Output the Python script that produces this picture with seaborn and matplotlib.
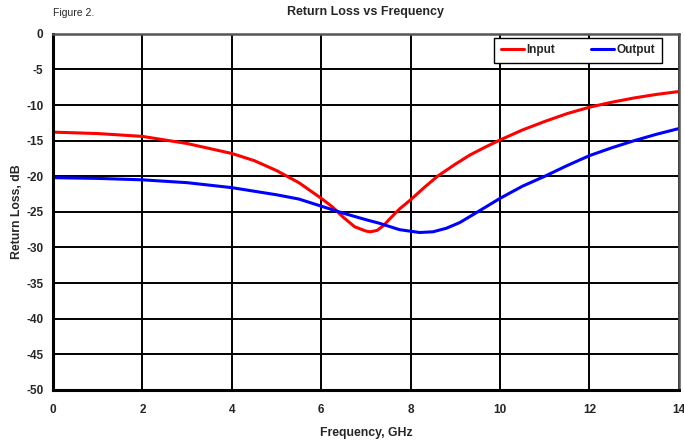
"""
Return loss vs frequency chart (Figure 2)
"""

import numpy as np
import pandas as pd
import matplotlib
matplotlib.use('Agg')
import matplotlib.pyplot as plt
import seaborn as sns

# Data
input_freq = [0, 1, 2, 3, 4, 4.5, 5, 5.5, 6, 6.25, 6.5, 6.75, 7, 7.1, 7.25, 7.4, 7.5, 7.75, 8, 8.3, 8.6,
              9, 9.33, 9.67, 10, 10.5, 11, 11.5, 12, 12.5, 13, 13.5, 14]
input_rl = [-13.8, -14.0, -14.4, -15.4, -16.8, -17.8, -19.2, -20.9, -23.1, -24.3, -25.8, -27.1, -27.7, -27.8,
            -27.6, -26.9, -26.2, -24.6, -23.3, -21.6, -20.0, -18.3, -17.0, -15.9, -14.9, -13.5, -12.3,
            -11.2, -10.3, -9.6, -9.0, -8.5, -8.1]

output_freq = [0, 1, 2, 3, 4, 5, 5.5, 6, 6.5, 7, 7.3, 7.75, 8.2, 8.5, 8.8, 9.1, 9.5, 10, 10.5, 11, 11.5,
               12, 12.5, 13, 13.5, 14]
output_rl = [-20.2, -20.3, -20.5, -20.9, -21.6, -22.6, -23.2, -24.2, -25.2, -26.1, -26.6, -27.5, -27.9,
             -27.8, -27.3, -26.5, -25.0, -23.1, -21.4, -20.0, -18.5, -17.1, -16.0, -15.0, -14.1, -13.3]

x_ticks = [0, 2, 4, 6, 8, 10, 12, 14]
y_ticks = [0, -5, -10, -15, -20, -25, -30, -35, -40, -45, -50]

sns.set_style("white")
plt.rcParams['font.family'] = ['Liberation Sans', 'DejaVu Sans']

fig = plt.figure(figsize=(6.84, 4.40), dpi=100)
ax = fig.add_axes([0.0775, 0.114, 0.915, 0.809])

df_in = pd.DataFrame({'freq': input_freq, 'rl': input_rl})
df_out = pd.DataFrame({'freq': output_freq, 'rl': output_rl})
sns.lineplot(data=df_in, x='freq', y='rl', color='#ff0000', lw=2.2, label='Input', ax=ax)
sns.lineplot(data=df_out, x='freq', y='rl', color='#0000ff', lw=2.2, label='Output', ax=ax)

ax.set_xlim(0, 14)
ax.set_ylim(-50, 0)
ax.set_xticks(x_ticks)
ax.set_yticks(y_ticks)
ax.set_xticklabels([str(t) for t in x_ticks], fontsize=8.5, fontweight='bold')
ax.set_yticklabels([str(t) for t in y_ticks], fontsize=8.5, fontweight='bold')
ax.grid(True, color='black', lw=1.4)
ax.set_axisbelow(True)
ax.tick_params(axis='both', direction='out', length=3, width=1.2, color='black', pad=4)
ax.tick_params(axis='x', pad=7)

for side in ['left', 'bottom']:
    ax.spines[side].set_color('black')
    ax.spines[side].set_linewidth(2.2)
for side in ['top', 'right']:
    ax.spines[side].set_color('#555555')
    ax.spines[side].set_linewidth(1.8)

ax.set_xlabel('Frequency, GHz', fontsize=8.8, fontweight='bold', labelpad=8)
ax.set_ylabel('Return Loss, dB', fontsize=8.8, fontweight='bold', labelpad=2)

fig.text(0.535, 0.972, 'Return Loss vs Frequency', ha='center', va='center', fontsize=9, fontweight='bold')
fig.text(0.078, 0.970, 'Figure 2.', ha='left', va='center', fontsize=7.5)

leg = ax.legend(loc='upper right', bbox_to_anchor=(0.973, 0.989), borderaxespad=0, ncol=2, frameon=True,
                fancybox=False, edgecolor='black', handlelength=2.0, handletextpad=0.2, columnspacing=3.0,
                borderpad=0.55, prop={'weight': 'bold', 'size': 8.5})
leg.get_frame().set_linewidth(1.0)
leg.get_frame().set_alpha(1)

plt.savefig('out.png', dpi=100)
plt.close()
